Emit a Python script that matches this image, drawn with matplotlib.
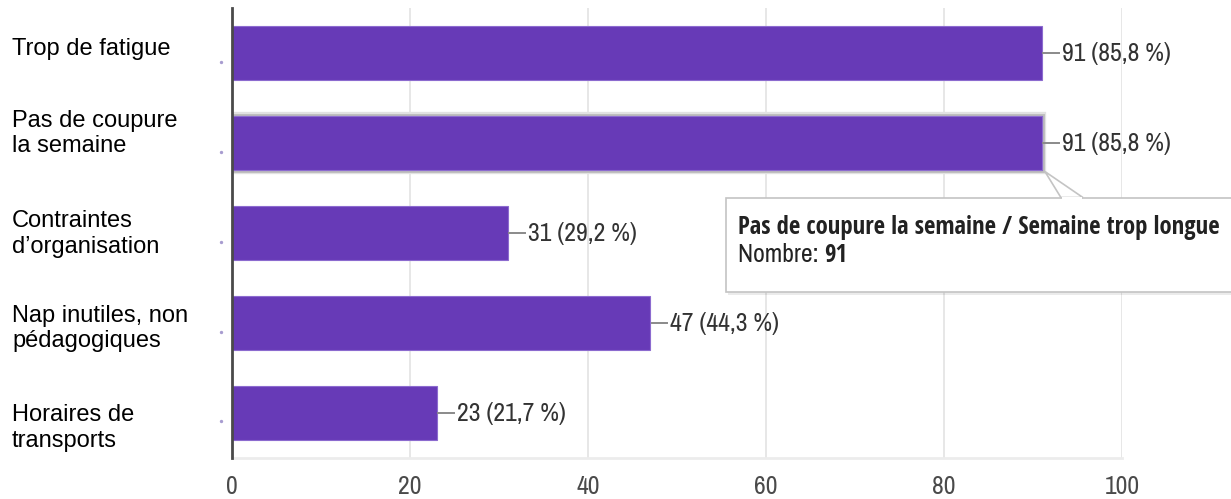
import matplotlib
matplotlib.use("Agg")
import matplotlib.pyplot as plt
from matplotlib import font_manager
from matplotlib.patches import Rectangle, Polygon
from matplotlib.transforms import IdentityTransform
import matplotlib.patheffects as pe

# ---------------- data ----------------
categories = ["Trop de fatigue", "Pas de coupure\nla semaine", "Contraintes\nd’organisation",
              "Nap inutiles, non\npédagogiques", "Horaires de\ntransports"]
counts = [91, 91, 31, 47, 23]
percents = [85.8, 85.8, 29.2, 44.3, 21.7]
xticks = [0, 20, 40, 60, 80, 100]
highlight = 1
tooltip_title = "Pas de coupure la semaine / Semaine trop longue"
tooltip_label = "Nombre:"

# ---------------- fonts ----------------
fl = font_manager.fontManager.ttflist
avail = {f.name for f in fl}
NARROW, NSIZE = "Liberation Sans", 15
for name, size in [("Liberation Sans Narrow", 17), ("Archivo Narrow", 18.5),
                   ("PT Sans Narrow", 18.5), ("Roboto Condensed", 17)]:
    if name in avail:
        NARROW, NSIZE = name, size
        break
BOLD = "Liberation Sans"
for name in ["Liberation Sans Narrow", "Archivo Narrow", "Open Sans Condensed", "Roboto Condensed",
             "Fira Sans Condensed", "PT Sans Narrow", "Asap Condensed", "Barlow Condensed"]:
    if any(f.name == name and (f.weight if isinstance(f.weight, int) else 400) >= 600 for f in fl) or \
       any(f.name == name and f.weight == "bold" for f in fl):
        BOLD = name
        break
SANS = "Liberation Sans"

W, H = 1231, 499
fig = plt.figure(figsize=(W / 100, H / 100), dpi=100)
ax = fig.add_axes([232 / W, 41.5 / H, 890 / W, 450 / H])

purple = "#673AB7"
ypos = list(range(len(categories)))
bars = ax.barh(ypos, counts, height=0.6, color=purple, edgecolor="#8c6bcf", linewidth=0.8, zorder=3)
bars[highlight].set_path_effects([pe.withStroke(linewidth=6, foreground="#e2e2e2"),
                                  pe.withStroke(linewidth=3.5, foreground="#bdbdbd"), pe.Normal()])

ax.set_xlim(0, 100)
ax.set_ylim(len(categories) - 0.5, -0.5)
ax.set_xticks(xticks)
ax.set_xticklabels([str(t) for t in xticks], fontfamily=NARROW, fontsize=NSIZE, color="#4a4a4a")
ax.tick_params(axis="x", length=0, pad=12.5)
ax.set_yticks([])
ax.grid(axis="x", color="#e3e3e3", linewidth=1.2, zorder=0)
for s in ["top", "right"]:
    ax.spines[s].set_visible(False)
ax.spines["left"].set_color("#4a4a4a")
ax.spines["left"].set_linewidth(2)
ax.spines["left"].set_zorder(5)
ax.spines["bottom"].set_color("#ececec")
ax.spines["bottom"].set_linewidth(2)

# tiny dots left of the axis
ax.plot([-1.25] * len(ypos), [y + 0.1 for y in ypos], ls="none", marker="o", ms=1.4,
        color="#a89cd0", clip_on=False)

# value labels with connectors
for y, c, p in zip(ypos, counts, percents):
    ax.plot([c + 0.15, c + 1.9], [y, y], color="#8a8a8a", lw=1.4, zorder=4, clip_on=False)
    txt = f"{c} ({p:.1f} %)".replace(".", ",")
    ax.annotate(txt, (c, y), xytext=(14.4, -6.3), textcoords="offset points",
                va="baseline", ha="left", fontfamily=NARROW, fontsize=NSIZE, color="#333333")

# category labels (left aligned at figure edge)
label_baseline_offsets = [2, 10, 20, 25, 34]  # px below bar centre (last line baseline)
for y, lab, off in zip(ypos, categories, label_baseline_offsets):
    _, py = ax.transData.transform((0, y))
    fig.text(12 / W, (py - off) / H, lab, ha="left", va="baseline", fontfamily=SANS,
             fontsize=17, color="#000000", linespacing=1.2)

# tooltip anchored to highlighted bar end
ax_x, ax_y = ax.transData.transform((counts[highlight], highlight))  # display coords (y up)
box_left = ax_x - 316
box_top = ax_y - 55
box_bottom = ax_y - 149
box_right = W + 20
idt = IdentityTransform()
shadow = Rectangle((box_left + 2, box_bottom - 3), box_right - box_left, box_top - box_bottom,
                   transform=idt, facecolor="#000000", alpha=0.08, edgecolor="none", zorder=8)
fig.add_artist(shadow)
box = Rectangle((box_left, box_bottom), box_right - box_left, box_top - box_bottom,
                transform=idt, facecolor="white", edgecolor="#c4c4c4", linewidth=1.2, zorder=9)
fig.add_artist(box)
apex = (ax_x + 3, ax_y - 29)
tri = Polygon([apex, (ax_x + 19, box_top), (ax_x + 41, box_top)], closed=True, transform=idt,
              facecolor="white", edgecolor="#c4c4c4", linewidth=1.2, zorder=10)
fig.add_artist(tri)
fig.add_artist(Rectangle((ax_x + 20, box_top - 2), 20, 3, transform=idt, facecolor="white",
                         edgecolor="none", zorder=11))

r = fig.canvas.get_renderer()
t1 = fig.text((box_left + 12) / W, (box_top - 36) / H, tooltip_title, ha="left", va="baseline",
              fontfamily=BOLD, fontsize=NSIZE, fontweight="bold", color="#222222", zorder=12)
# fit the title to the width it takes in the reference tooltip
target_w = 482
w1 = t1.get_window_extent(renderer=r).width
t1.set_fontsize(NSIZE * target_w / w1)
t2 = fig.text((box_left + 12) / W, (box_top - 65) / H, tooltip_label + " ", ha="left", va="baseline",
              fontfamily=NARROW, fontsize=NSIZE, color="#222222", zorder=12)
bb = t2.get_window_extent(renderer=r)
fig.text(bb.x1 / W, (box_top - 65) / H, str(counts[highlight]), ha="left", va="baseline",
         fontfamily=BOLD, fontsize=t1.get_fontsize(), fontweight="bold", color="#222222", zorder=12)

fig.savefig("out.png", dpi=100)
